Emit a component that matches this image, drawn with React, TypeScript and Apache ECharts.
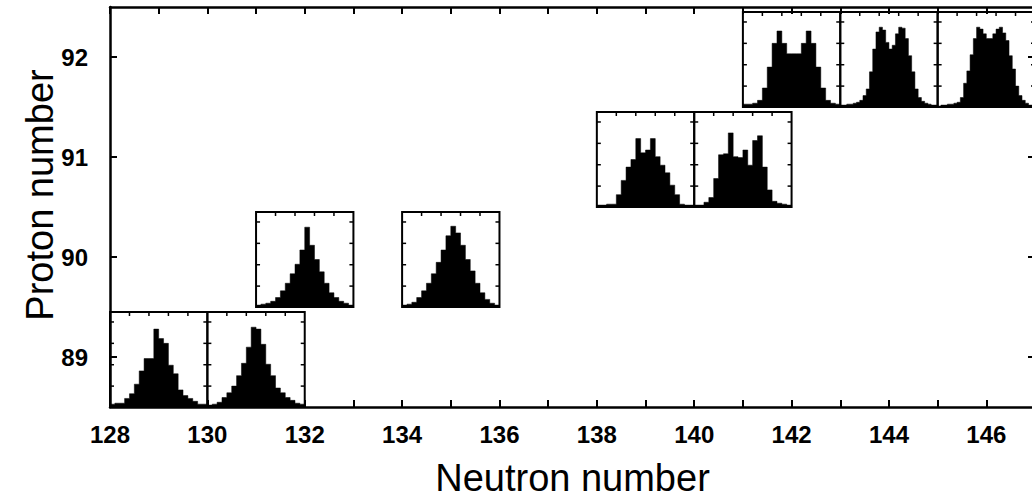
import React, { useEffect, useRef } from "react";
import * as echarts from "echarts";

// Inset positions (neutron number centre, proton number)
const INSET_N = [129, 131, 132, 135, 139, 141, 142, 144, 146];
const INSET_Z = [89, 89, 90, 90, 91, 91, 92, 92, 92];

// Histogram heights (fraction of the inset box height)
const HIST_Z89_N129 = [0.03, 0.04, 0.04, 0.09, 0.14, 0.24, 0.38, 0.51, 0.51, 0.82, 0.72, 0.67, 0.44, 0.35, 0.18, 0.12, 0.09, 0.06, 0.03, 0.03];
const HIST_Z89_N131 = [0.02, 0.03, 0.05, 0.1, 0.15, 0.22, 0.33, 0.46, 0.63, 0.84, 0.82, 0.66, 0.45, 0.33, 0.2, 0.15, 0.1, 0.07, 0.04, 0.03];
const HIST_Z90_N132 = [0.02, 0.03, 0.04, 0.06, 0.1, 0.17, 0.25, 0.35, 0.45, 0.6, 0.84, 0.65, 0.5, 0.37, 0.25, 0.15, 0.1, 0.06, 0.04, 0.02];
const HIST_Z90_N135 = [0.02, 0.03, 0.05, 0.1, 0.17, 0.25, 0.35, 0.47, 0.6, 0.75, 0.85, 0.78, 0.65, 0.5, 0.38, 0.25, 0.15, 0.08, 0.04, 0.02];
const HIST_Z91_N139 = [0.02, 0.02, 0.03, 0.03, 0.13, 0.28, 0.42, 0.5, 0.72, 0.57, 0.6, 0.72, 0.53, 0.44, 0.36, 0.23, 0.13, 0.03, 0.02, 0.02];
const HIST_Z91_N141 = [0.02, 0.02, 0.05, 0.1, 0.3, 0.55, 0.56, 0.78, 0.53, 0.52, 0.6, 0.44, 0.7, 0.75, 0.42, 0.18, 0.06, 0.04, 0.03, 0.02];
const HIST_Z92_N142 = [0.03, 0.03, 0.04, 0.07, 0.2, 0.42, 0.67, 0.8, 0.67, 0.56, 0.56, 0.56, 0.67, 0.8, 0.67, 0.42, 0.2, 0.07, 0.04, 0.03];
const HIST_Z92_N144 = [0.02, 0.02, 0.03, 0.03, 0.04, 0.05, 0.07, 0.12, 0.19, 0.37, 0.61, 0.79, 0.84, 0.81, 0.68, 0.61, 0.65, 0.77, 0.84, 0.83, 0.72, 0.54, 0.37, 0.19, 0.1, 0.06, 0.04, 0.03, 0.02, 0.02];
const HIST_Z92_N146 = [0.01, 0.02, 0.02, 0.03, 0.03, 0.04, 0.05, 0.1, 0.25, 0.38, 0.55, 0.72, 0.84, 0.82, 0.77, 0.72, 0.72, 0.77, 0.82, 0.84, 0.78, 0.7, 0.54, 0.4, 0.22, 0.12, 0.07, 0.04, 0.02, 0.02];

const HISTS = [
  HIST_Z89_N129, HIST_Z89_N131, HIST_Z90_N132, HIST_Z90_N135,
  HIST_Z91_N139, HIST_Z91_N141, HIST_Z92_N142, HIST_Z92_N144, HIST_Z92_N146,
];

const Y_TICKS = [89, 90, 91, 92];
const X_MIN = 128;
const X_MAX = 147;
const Y_MIN = 88.5;
const Y_MAX = 92.5;

const TICK_FONT = '"Liberation Sans", Arial, sans-serif';
const TITLE_FONT = '"Liberation Sans", "DejaVu Sans", sans-serif';

export default function App() {
  const ref = useRef<HTMLDivElement>(null);

  useEffect(() => {
    if (!ref.current) return;
    const chart = echarts.init(ref.current, null, { renderer: "svg" });

    const insetData = INSET_N.map((n, i) => [n, INSET_Z[i], i]);

    const renderItem = (_params: any, api: any) => {
      const N = api.value(0);
      const Z = api.value(1);
      const k = api.value(2);
      const hist = HISTS[k];
      const nb = hist.length;
      const x0 = N - 1;
      const x1 = N + 1;
      const yb = Z - 0.5;
      const yt = Z + 0.45;
      const pts: number[][] = [];
      pts.push(api.coord([x0, yb]));
      for (let i = 0; i < nb; i++) {
        const xa = x0 + (i * 2) / nb;
        const xb = x0 + ((i + 1) * 2) / nb;
        const yh = yb + hist[i] * (yt - yb);
        pts.push(api.coord([xa, yh]));
        pts.push(api.coord([xb, yh]));
      }
      pts.push(api.coord([x1, yb]));
      const tl = api.coord([x0, yt]);
      const br = api.coord([x1, yb]);
      const w = br[0] - tl[0];
      const h = br[1] - tl[1];
      const children: any[] = [
        {
          type: "polygon",
          shape: { points: pts },
          style: { fill: "#000", stroke: "#000", lineWidth: 0.5 },
        },
      ];
      [0.2, 0.4, 0.6, 0.8].forEach((f) => {
        const x = tl[0] + f * w;
        children.push({
          type: "line",
          shape: { x1: x, y1: tl[1], x2: x, y2: tl[1] + 4 },
          style: { stroke: "#000", lineWidth: 1.5 },
        });
      });
      [0.22, 0.445, 0.67, 0.895].forEach((f) => {
        const y = br[1] - f * h;
        children.push({
          type: "line",
          shape: { x1: tl[0], y1: y, x2: tl[0] + 4, y2: y },
          style: { stroke: "#000", lineWidth: 1.5 },
        });
        children.push({
          type: "line",
          shape: { x1: br[0] - 4, y1: y, x2: br[0], y2: y },
          style: { stroke: "#000", lineWidth: 1.5 },
        });
      });
      children.push({
        type: "rect",
        shape: { x: tl[0], y: tl[1], width: w, height: h },
        style: { fill: "none", stroke: "#000", lineWidth: 2 },
      });
      return { type: "group", children };
    };

    const axisLine = { show: true, lineStyle: { color: "#000", width: 2.5 } };
    const tickStyle = { color: "#000", width: 2 };

    chart.setOption({
      animation: false,
      backgroundColor: "#fff",
      grid: {
        left: 110,
        top: 7,
        width: 925,
        height: 400,
        containLabel: false,
        outerBoundsMode: "none",
      },
      xAxis: [
        {
          type: "value",
          position: "bottom",
          min: X_MIN,
          max: X_MAX,
          interval: 1,
          axisLine,
          axisTick: { inside: true, length: 7, lineStyle: tickStyle },
          splitLine: { show: false },
          axisLabel: {
            formatter: (v: number) => (v % 2 === 0 ? String(v) : ""),
            fontSize: 24,
            fontWeight: "bold",
            fontFamily: TICK_FONT,
            color: "#000",
            margin: 15,
          },
          name: "Neutron number",
          nameLocation: "middle",
          nameGap: 52,
          nameTextStyle: { fontSize: 38, fontFamily: TITLE_FONT, color: "#000" },
        },
        {
          type: "value",
          position: "top",
          min: X_MIN,
          max: X_MAX,
          interval: 1,
          axisLine,
          axisTick: { inside: true, length: 7, lineStyle: tickStyle },
          splitLine: { show: false },
          axisLabel: { show: false },
        },
      ],
      yAxis: [
        {
          type: "value",
          position: "left",
          min: Y_MIN,
          max: Y_MAX,
          axisLine,
          axisTick: { inside: true, length: 7, lineStyle: tickStyle, customValues: Y_TICKS },
          splitLine: { show: false },
          axisLabel: {
            customValues: Y_TICKS,
            fontSize: 24,
            fontWeight: "bold",
            fontFamily: TICK_FONT,
            color: "#000",
            margin: 22,
          },
        },
        {
          type: "value",
          position: "right",
          min: Y_MIN,
          max: Y_MAX,
          axisLine,
          axisTick: { inside: true, length: 7, lineStyle: tickStyle, customValues: Y_TICKS },
          splitLine: { show: false },
          axisLabel: { show: false },
        },
      ],
      graphic: [
        {
          type: "text",
          x: 40,
          y: 195,
          rotation: Math.PI / 2,
          style: {
            text: "Proton number",
            fontSize: 38,
            fontFamily: TITLE_FONT,
            fill: "#000",
            textAlign: "center",
            textVerticalAlign: "middle",
          },
        },
      ],
      series: [
        {
          type: "custom",
          xAxisIndex: 0,
          yAxisIndex: 0,
          renderItem,
          encode: { x: 0, y: 1 },
          data: insetData,
          z: 5,
        },
      ],
    });

    return () => chart.dispose();
  }, []);

  return (
    <div
      ref={ref}
      style={{ position: "fixed", left: 0, top: 0, width: 1032, height: 501, background: "#fff" }}
    />
  );
}
